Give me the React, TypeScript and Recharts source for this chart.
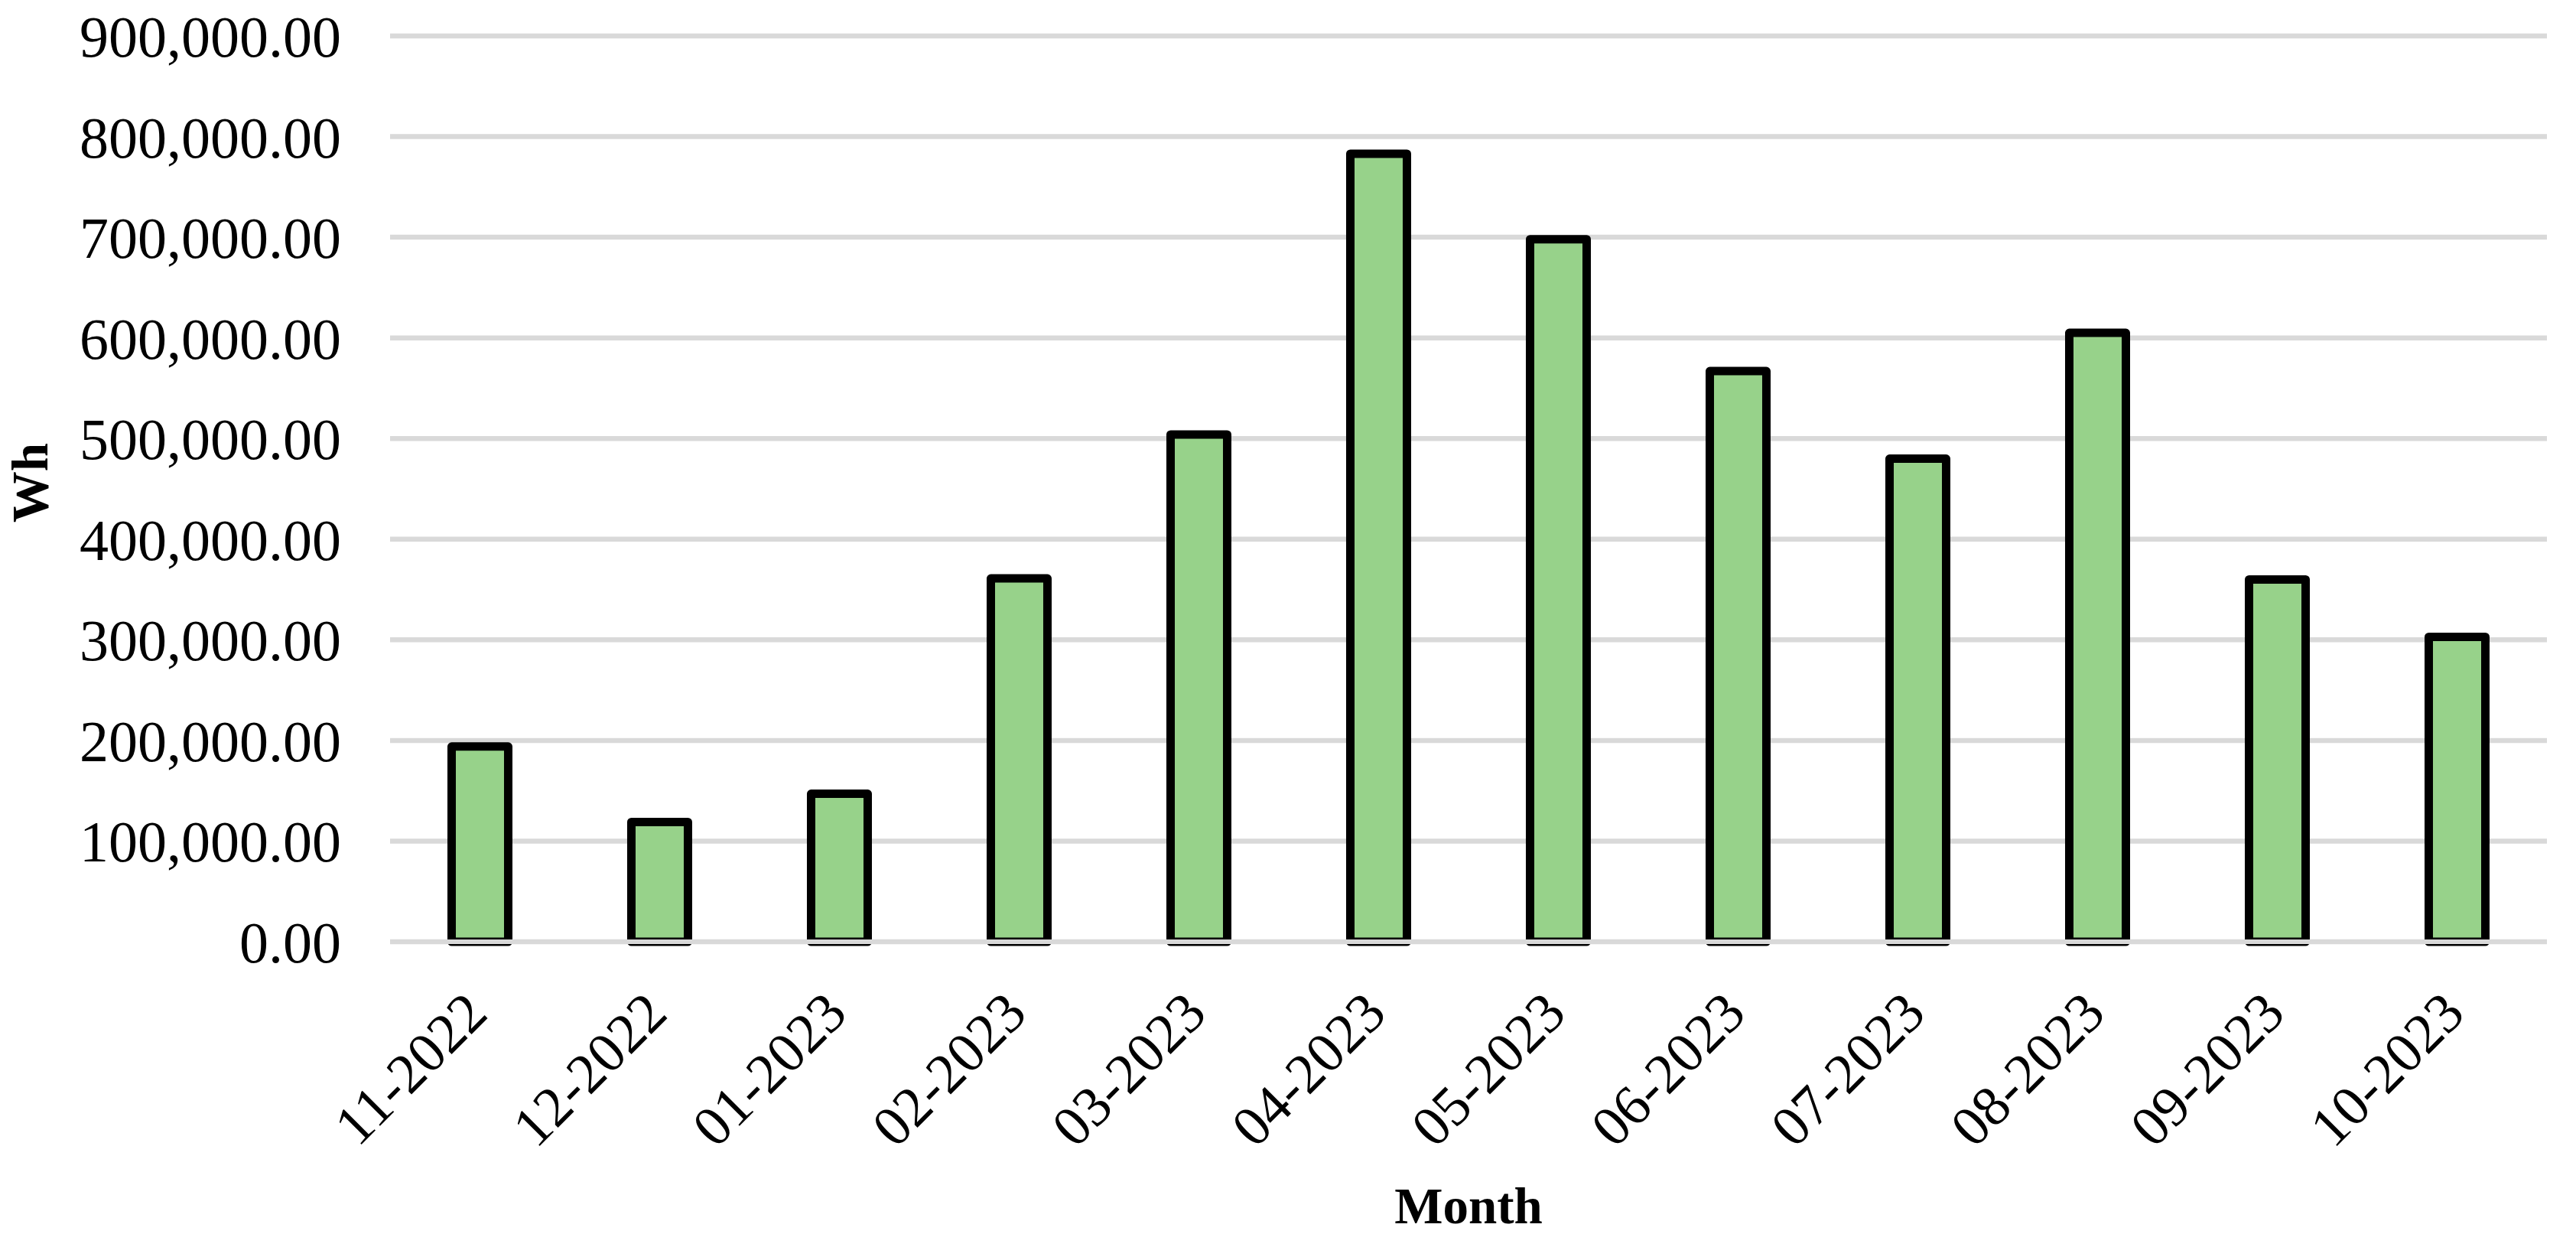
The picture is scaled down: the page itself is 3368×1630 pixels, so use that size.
import React from 'react';
import { BarChart, Bar, XAxis, YAxis, CartesianGrid, ReferenceLine } from 'recharts';

const months = ['11-2022', '12-2022', '01-2023', '02-2023', '03-2023', '04-2023', '05-2023', '06-2023', '07-2023', '08-2023', '09-2023', '10-2023'];
const energyWh = [194000, 119000, 147000, 361000, 504000, 783000, 698000, 567000, 480000, 605000, 360000, 303000];
const yTicks = [0, 100000, 200000, 300000, 400000, 500000, 600000, 700000, 800000, 900000];

const data = months.map((m, i) => ({ month: m, wh: energyWh[i] }));

const FONT = '"Liberation Serif", "Times New Roman", serif';
const fmt = (v: number) => v.toLocaleString('en-US', { minimumFractionDigits: 2, maximumFractionDigits: 2 });

const XTick = (props: any) => {
  const { x, y, payload } = props;
  const ax = x + 13;
  const ay = y + 89;
  return (
    <text x={ax} y={ay} textAnchor="end" fontFamily={FONT} fontSize={74} fill="#000" transform={`rotate(-45, ${ax}, ${ay})`}>
      {payload.value}
    </text>
  );
};

export default function App() {
  return (
    <div style={{ position: 'absolute', left: 0, top: 0, width: 3368, height: 1630, background: '#fff' }}>
      <BarChart width={3368} height={1630} data={data} margin={{ top: 47, right: 38, bottom: 0, left: 0 }} barCategoryGap="34.25%">
        <CartesianGrid vertical={false} stroke="#d9d9d9" strokeWidth={6.5} />
        <XAxis
          dataKey="month"
          height={399}
          axisLine={false}
          tickLine={false}
          interval={0}
          tick={<XTick />}
          label={{
            content: (p: any) => {
              const vb = p.viewBox || { x: 510, width: 2820 };
              const cx = vb.x + vb.width / 2;
              return (
                <text x={cx} y={1599} textAnchor="middle" fontFamily={FONT} fontSize={67} fontWeight="bold" fill="#000">
                  Month
                </text>
              );
            },
          }}
        />
        <YAxis
          width={510}
          domain={[0, 900000]}
          ticks={yTicks}
          axisLine={false}
          tickLine={false}
          tickSize={0}
          tickMargin={64}
          tickFormatter={fmt}
          tick={{ fontFamily: FONT, fontSize: 76, fill: '#000' }}
          label={{
            content: () => (
              <text x={62} y={631} textAnchor="middle" fontFamily={FONT} fontSize={67} fontWeight="bold" fill="#000" transform="rotate(-90, 62, 631)">
                Wh
              </text>
            ),
          }}
        />
        <Bar dataKey="wh" fill="#97D28A" stroke="#000" strokeWidth={11} strokeLinejoin="round" isAnimationActive={false} />
        <ReferenceLine y={0} stroke="#d9d9d9" strokeWidth={6} />
      </BarChart>
    </div>
  );
}
